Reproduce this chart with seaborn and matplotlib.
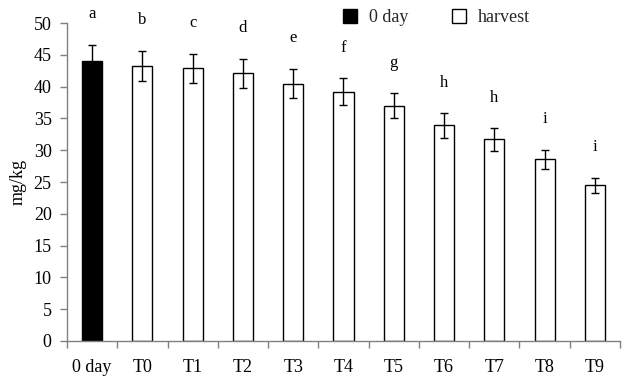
import matplotlib
matplotlib.use("Agg")
import matplotlib.pyplot as plt
import matplotlib.ticker as mticker
from matplotlib.patches import Patch
import seaborn as sns
import pandas as pd
import numpy as np

categories = ["0 day", "T0", "T1", "T2", "T3", "T4", "T5", "T6", "T7", "T8", "T9"]
values = [44.0, 43.3, 42.9, 42.1, 40.5, 39.2, 37.0, 33.9, 31.7, 28.6, 24.5]
errors = [2.6, 2.4, 2.3, 2.3, 2.3, 2.15, 2.0, 1.9, 1.75, 1.5, 1.2]
letters = ["a", "b", "c", "d", "e", "f", "g", "h", "h", "i", "i"]
groups = ["0 day"] + ["harvest"] * 10
yticks = list(range(0, 51, 5))

sns.set_theme(style="white")
plt.rcParams["font.family"] = ["Liberation Serif", "DejaVu Serif"]

df = pd.DataFrame({"cat": categories, "val": values, "grp": groups})

fig = plt.figure(figsize=(6.32, 3.8), dpi=100)
ax = fig.add_axes([0.106, 0.103, 0.875, 0.836])

sns.barplot(data=df, x="cat", y="val", hue="grp",
            palette={"0 day": "black", "harvest": "white"},
            edgecolor="black", linewidth=1.0, width=0.4, dodge=False,
            legend=False, ax=ax, errorbar=None)

ax.errorbar(np.arange(len(categories)), values, yerr=errors, fmt="none",
            ecolor="black", elinewidth=1.0, capsize=3, capthick=1.0)

for i, (v, e, l) in enumerate(zip(values, errors, letters)):
    ax.text(i, v + e + 4.8, l, ha="center", va="center", fontsize=12, color="black")

ax.set_xlim(-0.5, len(categories) - 0.5)
ax.set_ylim(0, 50)
ax.set_yticks(yticks)
ax.set_xlabel("")
ax.set_ylabel("mg/kg", fontsize=13, color="black", labelpad=5)

for s in ["top", "right"]:
    ax.spines[s].set_visible(False)
for s in ["left", "bottom"]:
    ax.spines[s].set_color("#808080")
    ax.spines[s].set_linewidth(1.0)

ax.xaxis.set_minor_locator(mticker.FixedLocator(np.arange(-0.5, len(categories), 1.0)))
ax.tick_params(axis="x", which="major", length=0, labelsize=13, colors="black", pad=13)
ax.tick_params(axis="x", which="minor", length=5, width=1, color="#808080", direction="out", bottom=True)
ax.tick_params(axis="y", which="major", length=5, width=1, color="#808080", direction="out",
               labelsize=13, labelcolor="black", left=True, pad=6)

handles = [Patch(facecolor="black", edgecolor="black", label="0 day"),
           Patch(facecolor="white", edgecolor="black", label="harvest")]
ax.legend(handles=handles, loc="upper left", bbox_to_anchor=(0.47, 1.095), ncol=2,
          frameon=False, fontsize=13, handlelength=0.75, handleheight=0.75,
          handletextpad=0.7, columnspacing=2.4)

fig.savefig("out.png", dpi=100)
